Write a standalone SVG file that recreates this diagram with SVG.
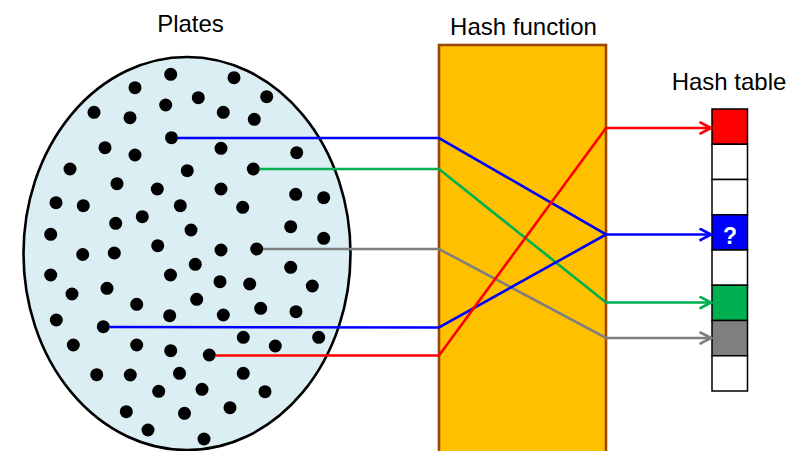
<svg xmlns="http://www.w3.org/2000/svg" width="794" height="451" viewBox="0 0 794 451">
  <defs>
    <style>
      .title { font-family: "Liberation Sans", Arial, sans-serif; font-size: 24px; fill: #000; text-anchor: middle; }
      .dot { fill: #000; }
      .link { fill: none; stroke-width: 2.6; stroke-linejoin: miter; }
      .cell { stroke: #000; stroke-width: 1.5; }
    </style>
    <marker id="head-red" viewBox="0 0 14 14" refX="12.5" refY="7" markerWidth="14" markerHeight="14" markerUnits="userSpaceOnUse" orient="auto">
      <path d="M1,1 L12.5,7 L1,13" fill="none" stroke="#FF0000" stroke-width="2.6"/>
    </marker>
    <marker id="head-blue" viewBox="0 0 14 14" refX="12.5" refY="7" markerWidth="14" markerHeight="14" markerUnits="userSpaceOnUse" orient="auto">
      <path d="M1,1 L12.5,7 L1,13" fill="none" stroke="#0000FF" stroke-width="2.6"/>
    </marker>
    <marker id="head-green" viewBox="0 0 14 14" refX="12.5" refY="7" markerWidth="14" markerHeight="14" markerUnits="userSpaceOnUse" orient="auto">
      <path d="M1,1 L12.5,7 L1,13" fill="none" stroke="#00B050" stroke-width="2.6"/>
    </marker>
    <marker id="head-gray" viewBox="0 0 14 14" refX="12.5" refY="7" markerWidth="14" markerHeight="14" markerUnits="userSpaceOnUse" orient="auto">
      <path d="M1,1 L12.5,7 L1,13" fill="none" stroke="#7F7F7F" stroke-width="2.6"/>
    </marker>
  </defs>

  <rect width="794" height="451" fill="#FFFFFF"/>

  <!-- Set of plates -->
  <g id="plates">
    <text class="title" x="190.5" y="32">Plates</text>
    <ellipse cx="187" cy="253.5" rx="163.5" ry="196.5" fill="#DAEEF3" stroke="#000" stroke-width="2.6"/>
    <g class="dot">
      <circle cx="170.7" cy="74.3" r="6.5"/>
      <circle cx="135" cy="87.7" r="6.5"/>
      <circle cx="94" cy="112.3" r="6.5"/>
      <circle cx="130" cy="117.7" r="6.5"/>
      <circle cx="165.7" cy="105" r="6.5"/>
      <circle cx="171.5" cy="137.7" r="6.5"/>
      <circle cx="105" cy="147.7" r="6.5"/>
      <circle cx="135" cy="155" r="6.5"/>
      <circle cx="70" cy="169" r="6.5"/>
      <circle cx="117" cy="183.7" r="6.5"/>
      <circle cx="157.3" cy="189" r="6.5"/>
      <circle cx="56" cy="202.7" r="6.5"/>
      <circle cx="83.3" cy="205.7" r="6.5"/>
      <circle cx="180.3" cy="205.7" r="6.5"/>
      <circle cx="142.3" cy="216.7" r="6.5"/>
      <circle cx="115.7" cy="223.3" r="6.5"/>
      <circle cx="50.7" cy="234.3" r="6.5"/>
      <circle cx="157.7" cy="245.7" r="6.5"/>
      <circle cx="82.7" cy="254.5" r="6.5"/>
      <circle cx="114.3" cy="253" r="6.5"/>
      <circle cx="234" cy="77.7" r="6.5"/>
      <circle cx="198.3" cy="97.7" r="6.5"/>
      <circle cx="266.7" cy="96.7" r="6.5"/>
      <circle cx="223.3" cy="112.3" r="6.5"/>
      <circle cx="254.3" cy="119.3" r="6.5"/>
      <circle cx="221" cy="148.3" r="6.5"/>
      <circle cx="296.7" cy="152.7" r="6.5"/>
      <circle cx="187.3" cy="170.7" r="6.5"/>
      <circle cx="253.3" cy="169" r="6.5"/>
      <circle cx="221" cy="189" r="6.5"/>
      <circle cx="295.7" cy="194.3" r="6.5"/>
      <circle cx="323.7" cy="197.7" r="6.5"/>
      <circle cx="242.7" cy="207.3" r="6.5"/>
      <circle cx="191" cy="230" r="6.5"/>
      <circle cx="290.7" cy="226.7" r="6.5"/>
      <circle cx="323.7" cy="238.3" r="6.5"/>
      <circle cx="221" cy="250" r="6.5"/>
      <circle cx="256.7" cy="249" r="6.5"/>
      <circle cx="195.3" cy="264.3" r="6.5"/>
      <circle cx="50.7" cy="275" r="6.5"/>
      <circle cx="170.5" cy="275" r="6.5"/>
      <circle cx="72" cy="294" r="6.5"/>
      <circle cx="107" cy="288.3" r="6.5"/>
      <circle cx="136.7" cy="304.3" r="6.5"/>
      <circle cx="56.3" cy="320" r="6.5"/>
      <circle cx="169.7" cy="315.7" r="6.5"/>
      <circle cx="103.3" cy="326.7" r="6.5"/>
      <circle cx="73.3" cy="345" r="6.5"/>
      <circle cx="136.7" cy="345" r="6.5"/>
      <circle cx="170.7" cy="350.7" r="6.5"/>
      <circle cx="96.7" cy="374.7" r="6.5"/>
      <circle cx="130.3" cy="375" r="6.5"/>
      <circle cx="179.5" cy="373.3" r="6.5"/>
      <circle cx="158.7" cy="391.3" r="6.5"/>
      <circle cx="126.3" cy="411.7" r="6.5"/>
      <circle cx="184.5" cy="413.3" r="6.5"/>
      <circle cx="148" cy="430" r="6.5"/>
      <circle cx="290.7" cy="267.3" r="6.5"/>
      <circle cx="220" cy="281.7" r="6.5"/>
      <circle cx="249.7" cy="284" r="6.5"/>
      <circle cx="312.3" cy="286" r="6.5"/>
      <circle cx="196.7" cy="299.3" r="6.5"/>
      <circle cx="260.7" cy="308.3" r="6.5"/>
      <circle cx="296" cy="311.7" r="6.5"/>
      <circle cx="223.3" cy="315" r="6.5"/>
      <circle cx="243.3" cy="337.3" r="6.5"/>
      <circle cx="275.3" cy="346" r="6.5"/>
      <circle cx="318.7" cy="337.3" r="6.5"/>
      <circle cx="209.3" cy="355" r="6.5"/>
      <circle cx="243.3" cy="373.3" r="6.5"/>
      <circle cx="202" cy="389.3" r="6.5"/>
      <circle cx="265" cy="391.7" r="6.5"/>
      <circle cx="230" cy="407.7" r="6.5"/>
      <circle cx="204" cy="439" r="6.5"/>
    </g>
  </g>

  <!-- Hash function box -->
  <g id="hash-function">
    <text class="title" x="523.5" y="35">Hash function</text>
    <rect x="439" y="45" width="167" height="420" fill="#FFC000" stroke="#984807" stroke-width="2.6"/>
  </g>

  <!-- Hash table: eight slots -->
  <g id="hash-table">
    <text class="title" x="729" y="90">Hash table</text>
    <rect class="cell" x="712" y="109" width="35.5" height="35.25" fill="#FF0000"/>
    <rect class="cell" x="712" y="144.25" width="35.5" height="35.25" fill="#FFFFFF"/>
    <rect class="cell" x="712" y="179.5" width="35.5" height="35.25" fill="#FFFFFF"/>
    <rect class="cell" x="712" y="214.75" width="35.5" height="35.25" fill="#0000FF"/>
    <rect class="cell" x="712" y="250" width="35.5" height="35.25" fill="#FFFFFF"/>
    <rect class="cell" x="712" y="285.25" width="35.5" height="35.25" fill="#00B050"/>
    <rect class="cell" x="712" y="320.5" width="35.5" height="35.25" fill="#7F7F7F"/>
    <rect class="cell" x="712" y="355.75" width="35.5" height="35.25" fill="#FFFFFF"/>
    <text x="730" y="244" font-family="'Liberation Sans', Arial, sans-serif" font-size="23" font-weight="bold" fill="#FFFFFF" text-anchor="middle">?</text>
  </g>

  <!-- Mappings from plates through the hash function to slots -->
  <g id="connectors">
    <polyline class="link" stroke="#0000FF" points="178,138 439,138 606,234.5 711,234.5" marker-end="url(#head-blue)"/>
    <polyline class="link" stroke="#00B050" points="259.5,169 439,169 606,302.5 711,302.5" marker-end="url(#head-green)"/>
    <polyline class="link" stroke="#7F7F7F" points="263,249 439,249 606,338 711,338" marker-end="url(#head-gray)"/>
    <polyline class="link" stroke="#0000FF" points="109.5,327 439,327.5 606,234.5"/>
    <polyline class="link" stroke="#FF0000" points="215.5,355.5 439,355.5 606,128 711,128" marker-end="url(#head-red)"/>
  </g>
</svg>
